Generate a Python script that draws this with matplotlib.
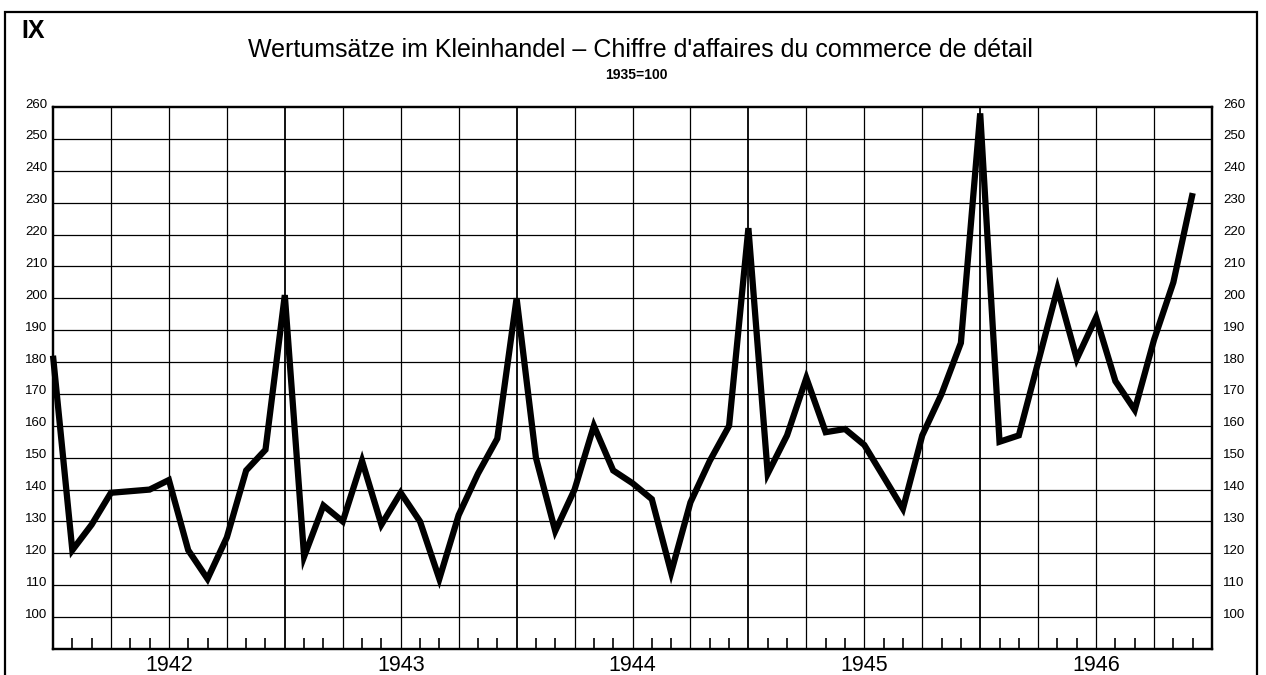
import matplotlib
matplotlib.use("Agg")
import matplotlib.pyplot as plt
import matplotlib.transforms as mtransforms
from matplotlib.patches import Rectangle
import numpy as np
import pandas as pd

# ---- data -------------------------------------------------------------
months = pd.period_range("1941-12", "1946-11", freq="M")
values_1941 = [182]
values_1942 = [121, 129, 139, 139.5, 140, 143, 121, 112, 125, 146, 152.5, 201]
values_1943 = [119, 135, 130, 149, 129, 139, 130, 112, 132, 145, 156, 200]
values_1944 = [150, 127, 140, 160, 146, 142, 137, 114, 136, 149, 160, 222]
values_1945 = [145, 157, 175, 158, 159, 154, 144, 134, 157, 170, 186, 258]
values_1946 = [155, 157, 180, 203, 181, 194, 174, 165, 187, 205, 233]
values = values_1941 + values_1942 + values_1943 + values_1944 + values_1945 + values_1946

year_labels = ["1942", "1943", "1944", "1945", "1946"]
ytick_values = list(range(100, 261, 10))

title = "Wertumsätze im Kleinhandel \u2013 Chiffre d'affaires du commerce de détail"
subtitle = "1935=100"
panel_label = "IX"

# ---- figure -----------------------------------------------------------
plt.rcParams["font.family"] = ["Liberation Sans", "DejaVu Sans"]
W, H = 1266, 675
fig = plt.figure(figsize=(W / 100, H / 100), dpi=100)
fig.patch.set_facecolor("white")

left, right, top, bottom = 53, 1212, 107, 649
ax = fig.add_axes([left / W, 1 - bottom / H, (right - left) / W, (bottom - top) / H])

x = np.arange(len(months))
n_total = 60  # Dec 1941 .. Dec 1946
ax.set_xlim(0, n_total)
ax.set_ylim(90, 260)

# grid: horizontal
for v in ytick_values[:-1]:
    ax.axhline(v, color="black", lw=0.9, zorder=1)
# grid: vertical quarters, year lines heavier
for q in range(3, n_total, 3):
    ax.axvline(q, color="black", lw=1.3 if q % 12 == 0 else 0.9, zorder=1)

# month ticks at bottom (non-quarter months)
minor = [m for m in range(1, n_total) if m % 3 != 0]
ax.set_xticks(minor, minor=True)
ax.set_xticks([6 + 12 * i for i in range(len(year_labels))])
ax.set_xticklabels(year_labels, fontsize=15.5)
ax.tick_params(axis="x", which="major", length=0, pad=4)
ax.tick_params(axis="x", which="minor", direction="in", length=8, width=1.2)

ax.set_yticks(ytick_values)
ax.set_yticklabels([str(v) for v in ytick_values], fontsize=9.5)
ax.tick_params(axis="y", length=0, pad=4)
off = mtransforms.ScaledTranslation(0, 4 / 100, fig.dpi_scale_trans)
for lab in ax.get_yticklabels():
    lab.set_transform(lab.get_transform() + off)

ax2 = ax.twinx()
ax2.set_ylim(ax.get_ylim())
ax2.set_yticks(ytick_values)
ax2.set_yticklabels([str(v) for v in ytick_values], fontsize=9.5)
ax2.tick_params(axis="y", length=0, pad=8)
for lab in ax2.get_yticklabels():
    lab.set_transform(lab.get_transform() + off)

for a in (ax, ax2):
    for s in a.spines.values():
        s.set_linewidth(1.6)
        s.set_color("black")

ax.plot(x, values, color="black", lw=4.5, solid_joinstyle="miter",
        solid_capstyle="butt", zorder=3, clip_on=False)

# outer frame
fig.patches.append(Rectangle((5 / W, -0.02), (1257 - 5) / W, 1.02 - 12 / H,
                             transform=fig.transFigure, fill=False,
                             edgecolor="black", lw=1.6))

fig.text(21 / W, 1 - 31 / H, panel_label, fontsize=18, ha="left", va="center",
         fontweight="bold")
fig.text(640 / W, 1 - 50 / H, title, fontsize=18, ha="center", va="center")
fig.text(636 / W, 1 - 75 / H, subtitle, fontsize=10, ha="center", va="center",
         fontweight="bold")

fig.savefig("out.png", dpi=100)
